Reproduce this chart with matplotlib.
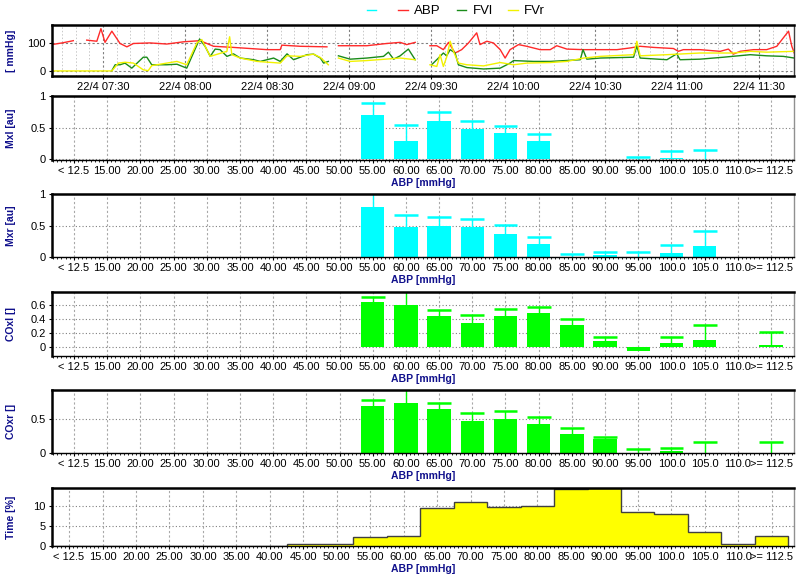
import numpy as np
import matplotlib
matplotlib.use('Agg')
import matplotlib.pyplot as plt
from matplotlib.lines import Line2D
from matplotlib.ticker import MultipleLocator

plt.rcParams['font.family'] = ['Liberation Sans Narrow', 'Liberation Sans', 'DejaVu Sans']

nan = np.nan

# trend panel, time in minutes after 22/4 07:00
abp_t = [11.8, 15, 19.1, 21, 24.0, 27.7, 29.2, 30.7, 33.2, 36.2, 38.7, 41.1, 47.2, 53.3, 59.4, 65.5,
         70.4, 77.7, 83.8, 89.9, 94.8, 95.4, 102.1, 111.9, 114, 116.1, 126.5, 133.8, 138.7, 141.1,
         144.2, 147, 149.6, 152.1, 154.5, 156.4, 158.8, 161.2, 163.7, 166.7, 167.9, 170.4, 172.8,
         175.3, 177.1, 178.9, 182.0, 185.0, 189.9, 193.6, 196.0, 199.7, 205.8, 211.9, 218.0, 222.8,
         226.5, 231.4, 238.7, 240.5, 242.3, 248.4, 255.8, 258.8, 260.6, 263.1, 268.0, 272.8, 276.5,
         280.8, 282.0, 282.9]
abp = [95, 100, 108, nan, 110, 106, 151, 102, 142, 98, 86, 98, 100, 96, 104, 108,
       88, 84, 80, 76, 76, 92, 88, 86, nan, 90, 90, 98, 102, 94,
       102, nan, 90, 90, 76, 102, 64, 76, 100, 136, 94, 106, 100,
       76, 46, 76, 94, 88, 76, 76, 90, 78, 76, 76, 76, 82,
       88, 84, 80, 70, 76, 76, 70, 78, 60, 70, 76, 76, 88,
       142, 88, 64]

fvl_t = [33.2, 34.4, 36.2, 38.0, 40.5, 44.7, 46.0, 47.8, 53.3, 57.0, 60.6, 65.3, 67.3, 69.2, 71.0,
         72.8, 75.3, 77.7, 80.2, 85.1, 87.5, 92.4, 94.8, 97.3, 99.7, 104.6, 107.0, 109.5, 110.7,
         112.4, 114, 116.1, 120.4, 126.5, 132.6, 134.4, 136.3, 138.7, 141.7, 144.2, 147, 150.2,
         152.7, 154.5, 155.7, 157.0, 158.8, 160.0, 163.1, 169.2, 175.3, 178.9, 180.2, 187.5, 193.6,
         204.6, 205.6, 207.0, 211.9, 224.1, 225.3, 226.5, 236.3, 239.9, 241.1, 248.4, 257.0, 266.8,
         272.8, 278.9, 282.9]
fvl = [1, 22, 22, 28, 10, 49, 49, 22, 22, 24, 10, 114, 88, 52, 78,
       76, 52, 61, 46, 40, 34, 46, 34, 61, 40, 58, 60, 46, 28,
       34, nan, 54, 42, 46, 52, 67, 42, 54, 78, 40, nan, 22,
       46, 64, 54, 76, 64, 22, 12, 7, 10, 28, 37, 34, 34,
       40, 76, 42, 46, 49, 90, 46, 40, 61, 40, 42, 49, 58,
       54, 52, 46]

fvr_t = [11.8, 33.2, 35.6, 38.0, 41.1, 44.7, 46.5, 47.8, 57.0, 60.6, 64.3, 66.1, 69.2, 75.3, 76.3,
         77.1, 80.2, 86.3, 94.8, 97.3, 102.1, 107.0, 109.5, 112.4, 114, 116.1, 120.4, 126.5, 138.7,
         144.2, 147, 149.6, 152.1, 153.3, 154.5, 155.7, 157.0, 158.2, 160.0, 163.1, 169.2, 175.3,
         180.2, 185.0, 193.6, 199.7, 205.8, 211.9, 224.1, 225.3, 226.5, 236.3, 248.4, 260.6, 266.8,
         272.8, 282.9]
fvr = [0, 0, 28, 31, 28, 4, 1, 19, 34, 22, 100, 112, 52, 70, 122,
       58, 46, 34, 28, 54, 52, 60, 48, 22, nan, 46, 34, 37, 46,
       40, nan, 22, 16, 58, 16, 49, 106, 70, 28, 22, 18, 30,
       22, 28, 30, 34, 46, 52, 58, 106, 54, 58, 64, 64, 70,
       67, 70]

time_ticks = [30, 60, 90, 120, 150, 180, 210, 240, 270]
time_labels = ['22/4 07:30', '22/4 08:00', '22/4 08:30', '22/4 09:00', '22/4 09:30',
               '22/4 10:00', '22/4 10:30', '22/4 11:00', '22/4 11:30']

# ABP bins
abp_bins = ['< 12.5', '15.00', '20.00', '25.00', '30.00', '35.00', '40.00', '45.00', '50.00',
            '55.00', '60.00', '65.00', '70.00', '75.00', '80.00', '85.00', '90.00', '95.00',
            '100.0', '105.0', '110.0', '>= 112.5']

empty = [nan] * 9
mxl_mean = empty + [0.70, 0.28, 0.61, 0.48, 0.41, 0.29, nan, nan, 0.0, 0.02, 0.0, nan, nan]
mxl_top = empty + [0.90, 0.55, 0.75, 0.60, 0.52, 0.40, nan, nan, 0.03, 0.12, 0.14, nan, nan]
mxr_mean = empty + [0.79, 0.47, 0.49, 0.48, 0.36, 0.21, 0.0, 0.02, 0.0, 0.06, 0.17, nan, nan]
mxr_top = empty + [1.10, 0.67, 0.63, 0.60, 0.51, 0.31, 0.04, 0.08, 0.08, 0.18, 0.41, nan, nan]
coxl_mean = empty + [0.63, 0.60, 0.44, 0.34, 0.44, 0.48, 0.31, 0.095, -0.05, 0.066, 0.11, nan, 0.03]
coxl_top = empty + [0.71, 0.85, 0.53, 0.45, 0.54, 0.56, 0.40, 0.15, nan, 0.14, 0.31, nan, 0.22]
coxr_mean = empty + [0.70, 0.75, 0.65, 0.48, 0.505, 0.43, 0.28, 0.20, 0.0, 0.02, 0.0, nan, 0.0]
coxr_top = empty + [0.79, 1.00, 0.74, 0.60, 0.62, 0.54, 0.365, 0.24, 0.05, 0.075, 0.165, nan, 0.165]
time_pct = [0, 0, 0, 0, 0, 0, 0, 0.35, 0.35, 2.15, 2.5, 9.6, 11.1, 9.85, 10.2, 14.45, 14.8,
            8.55, 8.05, 3.6, 0.35, 2.5]

BLUE = '#10108c'
GRID = '#a8a8a8'
YLAB_X = -0.049

fig = plt.figure(figsize=(8, 5.84), dpi=100)
L, W = 0.065, 0.9275


def style_axes(ax):
    for s in ('left', 'top'):
        ax.spines[s].set_linewidth(1.8)
        ax.spines[s].set_color('black')
    ax.spines['right'].set_color('#909090')
    ax.spines['right'].set_linewidth(1)
    ax.spines['bottom'].set_linewidth(1)
    ax.tick_params(labelsize=8, length=2.5, width=0.8, pad=2)
    ax.set_axisbelow(True)


# --- trend panel
ax = fig.add_axes([L, 0.8699, W, 0.0873])
ax.plot(abp_t, abp, color='#ff2a2a', lw=1)
ax.plot(fvl_t, fvl, color='#1a8c1a', lw=1)
ax.plot(fvr_t, fvr, color='#f2f200', lw=1)
ax.set_xlim(11.3, 282.8)
ax.set_ylim(-18, 164)
ax.set_yticks([0, 100])
ax.set_xticks(time_ticks)
ax.set_xticklabels(time_labels)
ax.set_xticks(np.arange(15, 285, 5), minor=True)
ax.tick_params(axis='x', which='minor', length=0)
ax.grid(axis='x', which='major', ls=(0, (2, 2)), color='#808080', lw=0.8)
ax.grid(axis='x', which='minor', ls=(0, (1.5, 2)), color='#c8c8c8', lw=0.7)
ax.grid(axis='y', ls=(0, (2, 2)), color='#808080', lw=0.8)
style_axes(ax)
ax.spines['bottom'].set_linewidth(1.8)
ax.spines['right'].set_color('#404040')
ax.set_ylabel('[ mmHg]', color=BLUE, fontweight='bold', fontsize=7.5)
ax.yaxis.set_label_coords(YLAB_X, 0.5)

handles = [Line2D([], [], color=c, lw=1) for c in ('#00ffff', '#ff2a2a', '#1a8c1a', '#f2f200')]
fig.legend(handles, ['', 'ABP', 'FVl', 'FVr'], loc='center', bbox_to_anchor=(0.57, 0.981),
           ncol=4, frameon=False, handlelength=0.7, handletextpad=0.5, columnspacing=1.2,
           fontsize=9.5)

x = np.arange(len(abp_bins))

panels = [
    (mxl_mean, mxl_top, 'Mxl [au]', '#00ffff', (-0.016, 1.005), [0, 0.5, 1], ['0', '0.5', '1'],
     [0.726, 0.1096]),
    (mxr_mean, mxr_top, 'Mxr [au]', '#00ffff', (-0.005, 1.005), [0, 0.5, 1], ['0', '0.5', '1'],
     [0.5599, 0.1079]),
    (coxl_mean, coxl_top, 'COxl []', '#00ff00', (-0.12, 0.776), [0, 0.2, 0.4, 0.6],
     ['0', '0.2', '0.4', '0.6'], [0.3904, 0.1096]),
    (coxr_mean, coxr_top, 'COxr []', '#00ff00', (-0.005, 0.94), [0, 0.5], ['0', '0.5'],
     [0.2243, 0.1079]),
]

for mean, top, label, color, ylim, yt, ytl, (y0, h) in panels:
    ax = fig.add_axes([L, y0, W, h])
    mean = np.array(mean)
    top = np.array(top)
    ax.bar(x, mean, width=0.7, color=color)
    ok = ~np.isnan(top) & ~np.isnan(mean)
    ax.vlines(x[ok], mean[ok], top[ok], color=color, lw=1)
    ax.hlines(top[ok], x[ok] - 0.36, x[ok] + 0.36, color=color, lw=1.8)
    ax.set_xlim(-0.66, 21.69)
    ax.set_ylim(*ylim)
    ax.set_yticks(yt)
    ax.set_yticklabels(ytl)
    ax.set_xticks(x)
    ax.set_xticklabels(abp_bins)
    ax.xaxis.set_minor_locator(MultipleLocator(0.125))
    ax.tick_params(axis='x', which='minor', length=1.5, width=0.6)
    ax.grid(axis='x', ls=(0, (2, 2)), color=GRID, lw=0.8)
    ax.grid(axis='y', ls=(0, (1, 2)), color='#808080', lw=0.8)
    style_axes(ax)
    ax.set_ylabel(label, color=BLUE, fontweight='bold', fontsize=7.5)
    ax.yaxis.set_label_coords(YLAB_X, 0.5)
    ax.set_xlabel('ABP [mmHg]', color=BLUE, fontweight='bold', fontsize=7.5, labelpad=1)

# --- time histogram
ax = fig.add_axes([L, 0.0651, W, 0.0993])
edges = np.arange(len(abp_bins) + 1) - 0.5
ax.stairs(time_pct, edges, fill=True, color='#ffff00')
ax.stairs(time_pct, edges, color='#404040', lw=1)
ax.set_xlim(-0.51, 21.67)
ax.set_ylim(-0.08, 14.72)
ax.set_yticks([0, 5, 10])
ax.set_xticks(x)
ax.set_xticklabels(abp_bins)
ax.xaxis.set_minor_locator(MultipleLocator(0.125))
ax.tick_params(axis='x', which='minor', length=1.5, width=0.6)
ax.grid(axis='x', ls=(0, (2, 2)), color=GRID, lw=0.8)
ax.grid(axis='y', ls=(0, (1, 2)), color='#808080', lw=0.8)
style_axes(ax)
ax.set_ylabel('Time [%]', color=BLUE, fontweight='bold', fontsize=7.5)
ax.yaxis.set_label_coords(YLAB_X, 0.5)
ax.set_xlabel('ABP [mmHg]', color=BLUE, fontweight='bold', fontsize=7.5, labelpad=1)

fig.savefig('out.png', dpi=100)
